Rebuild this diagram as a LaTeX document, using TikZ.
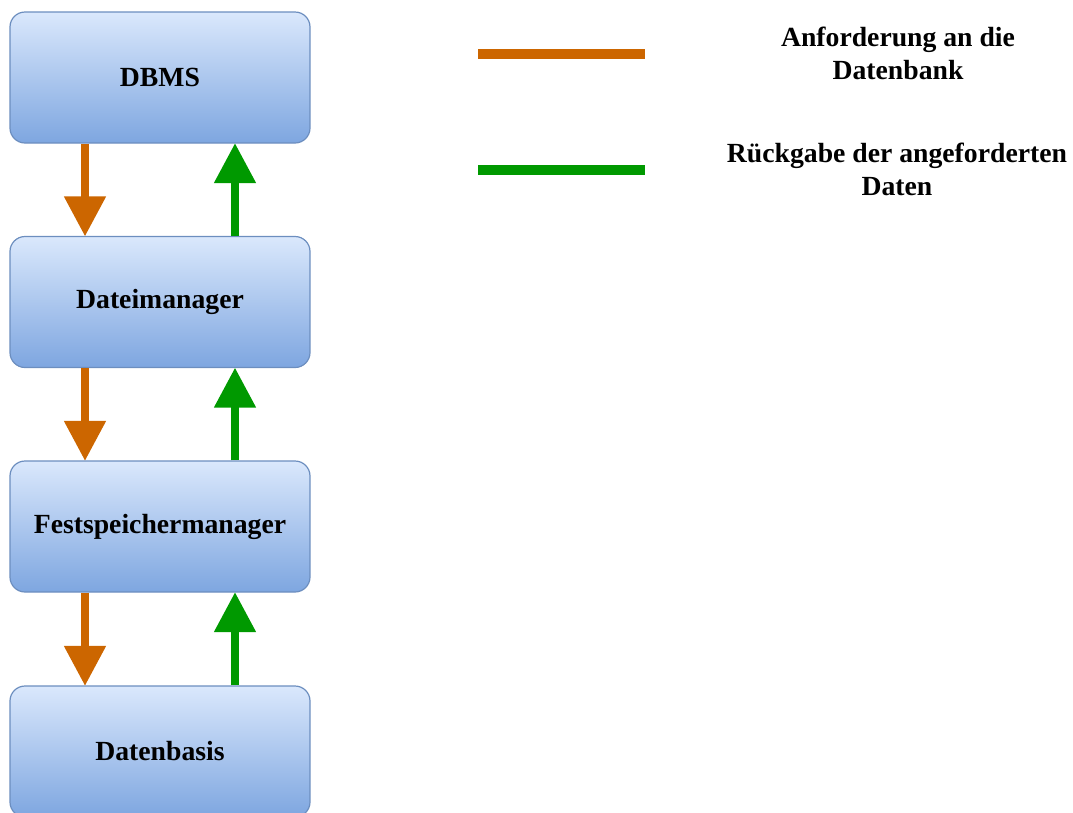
\documentclass[tikz,border=0pt]{standalone}
\usepackage{fontspec}
\setmainfont{Liberation Serif}
\usetikzlibrary{arrows.meta}
\definecolor{boxtop}{HTML}{DAE8FC}
\definecolor{boxbot}{HTML}{7EA6E0}
\definecolor{boxline}{HTML}{6C8EBF}
\definecolor{reqcol}{HTML}{CC6600}
\definecolor{retcol}{HTML}{009900}
\begin{document}
\begin{tikzpicture}[x=1pt,y=-1pt,
  layer/.style={draw=boxline, line width=1.2pt, rounded corners=15pt,
    top color=boxtop, bottom color=boxbot,
    minimum width=300pt, minimum height=131pt, inner sep=0pt,
    font=\fontsize{27.7}{33.2}\selectfont\bfseries},
  legendtext/.style={align=center, inner sep=0pt,
    font=\fontsize{27.7}{33.2}\selectfont\bfseries},
  reqarrow/.style={draw=reqcol, line width=8pt,
    -{Triangle[width=40pt,length=40pt]}, shorten >=-0.5pt},
  retarrow/.style={draw=retcol, line width=8pt,
    -{Triangle[width=40pt,length=40pt]}, shorten >=-0.5pt},
  legline/.style={line width=10pt}]
\useasboundingbox (0,0) rectangle (1073,812);

% layers of the storage hierarchy
\node[layer] (dbms) at (160,77.5) {DBMS};
\node[layer] (dm)   at (160,302) {Dateimanager};
\node[layer] (fsm)  at (160,526.5) {Festspeichermanager};
\node[layer] (db)   at (160,751.5) {Datenbasis};

% requests travel down, results travel up
\foreach \a/\b in {dbms/dm, dm/fsm, fsm/db}{
  \draw[reqarrow] ([xshift=-75pt]\a.south) -- ([xshift=-75pt]\b.north);
  \draw[retarrow] ([xshift=75pt]\b.north) -- ([xshift=75pt]\a.south);
}

% legend
\coordinate (l1a) at (478,54);
\coordinate (l1b) at (645,54);
\coordinate (l2a) at (478,170);
\coordinate (l2b) at (645,170);
\draw[legline, reqcol] (l1a) -- (l1b);
\draw[legline, retcol] (l2a) -- (l2b);
\node[legendtext] (t1) at (898,53.5) {Anforderung an die\\Datenbank};
\node[legendtext] (t2) at (897,169.5) {Rückgabe der angeforderten\\Daten};
\end{tikzpicture}
\end{document}
